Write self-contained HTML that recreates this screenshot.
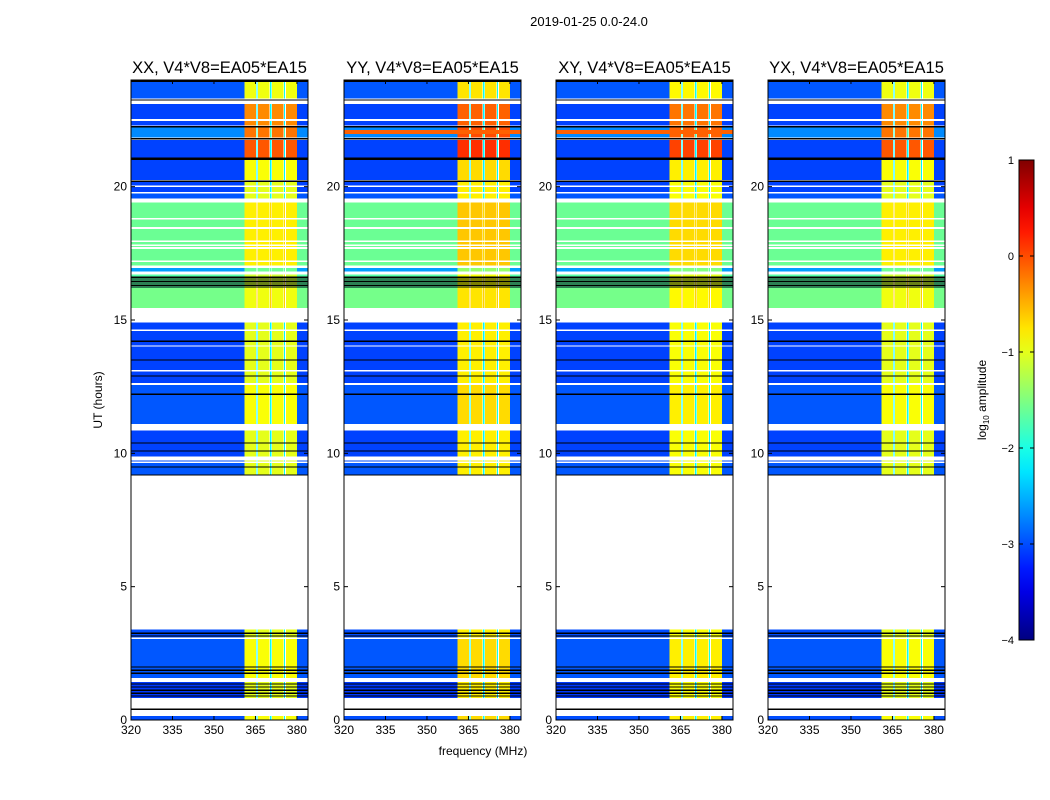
<!DOCTYPE html>
<html><head><meta charset="utf-8">
<style>
html,body{margin:0;padding:0;background:#fff;}
svg{display:block;font-family:"Liberation Sans",sans-serif;}
</style></head>
<body>
<svg id="fig" width="1050" height="800" xmlns="http://www.w3.org/2000/svg">
<text x="589" y="26" font-size="13" text-anchor="middle">2019-01-25 0.0-24.0</text>
<text x="483" y="755" font-size="12" text-anchor="middle">frequency (MHz)</text>
<text x="102" y="400" font-size="12" text-anchor="middle" transform="rotate(-90 102 400)">UT (hours)</text>
<text x="986" y="400" font-size="12" text-anchor="middle" transform="rotate(-90 986 400)">log<tspan font-size="8" dy="3">10</tspan><tspan dy="-3"> amplitude</tspan></text>
<g id="panels"></g>
<g id="cbar"></g>
</svg>
<script>
// ---- data ----
const panelTitles = ["XX, V4*V8=EA05*EA15","YY, V4*V8=EA05*EA15","XY, V4*V8=EA05*EA15","YX, V4*V8=EA05*EA15"];
const panelBandDelta = [0, 0.2, 0.1, 0.0];
const segStart = [0.00,0.82,1.57,3.10,9.20,9.70,9.88,11.10,12.62,13.12,14.05,14.65,15.45,16.20,16.82,17.05,19.55,19.80,20.25,21.10,21.85,22.30,23.30];
const segEnd   = [0.15,1.42,3.03,3.40,9.65,9.74,10.85,12.58,13.07,14.00,14.60,14.90,16.20,16.70,16.95,19.40,19.75,20.20,21.00,21.75,22.22,23.10,23.95];
const offLevel = [-3.0,-3.1,-2.95,-3.0,-2.95,-3.0,-3.05,-2.95,-3.05,-3.05,-3.05,-3.05,-1.55,-1.7,-2.6,-1.6,-2.95,-3.05,-3.05,-3.05,-2.7,-3.05,-2.95];
const bandLevel= [-0.9,-1.0,-0.9,-1.0,-1.0,-1.0,-1.0,-0.9,-1.0,-1.0,-1.0,-1.0,-0.95,-1.1,-1.6,-0.8,-1.0,-1.0,-0.9,-0.05,-0.2,-0.3,-0.95];
const blackLines = [0.41,0.90,1.01,1.12,1.24,1.35,1.76,1.87,1.99,3.15,3.26,9.19,9.49,10.09,10.39,12.22,12.90,13.50,14.21,16.24,16.31,16.39,16.46,16.54,16.61,20.21,21.03,21.07,21.80,22.25,23.25,23.96];
const whiteLines = [9.67,12.60,13.09,14.62,17.21,17.70,17.81,17.96,18.45,18.79,20.02,22.50];
// frequency channel mask, 1 MHz bins from 320..384 : 0 = off band, 1 = band, 2 = narrow dip
const bandMask = [0,0,0,0,0,0,0,0,0,0, 0,0,0,0,0,0,0,0,0,0, 0,0,0,0,0,0,0,0,0,0, 0,0,0,0,0,0,0,0,0,0,
                  0,1,1,1,1,2,1,1,1,1, 2,1,1,1,1,2,1,1,1,1, 0,0,0,0];
const redLinePanels = [1,2];
const redLineHours = [21.98,22.12];
const xTicks = [320,335,350,365,380];
const yTicks = [0,5,10,15,20];
const cbTicks = [1,0,-1,-2,-3,-4];
(function(){
const NS="http://www.w3.org/2000/svg";
const panelLeft=[131,344,556,768], pw=177, axTop=80, axBot=720;
const fMin=320,fMax=384,tMin=0,tMax=24,vMin=-4,vMax=1;
function clip(v){return Math.max(0,Math.min(1,v));}
function jet(v){const t=clip((v-vMin)/(vMax-vMin));
 const r=clip(1.5-Math.abs(4*t-3)),g=clip(1.5-Math.abs(4*t-2)),b=clip(1.5-Math.abs(4*t-1));
 return `rgb(${Math.round(r*255)},${Math.round(g*255)},${Math.round(b*255)})`;}
function el(tag,attrs,parent){const e=document.createElementNS(NS,tag);for(const k in attrs)e.setAttribute(k,attrs[k]);parent.appendChild(e);return e;}
const panelsG=document.getElementById('panels');
panelLeft.forEach((L,p)=>{
 const xs=f=>L+(f-fMin)/(fMax-fMin)*pw;
 const ys=h=>axBot-(h-tMin)/(tMax-tMin)*(axBot-axTop);
 const g=el('g',{},panelsG);
 
 
 const hm=el('g',{'shape-rendering':'crispEdges'},g);
 
 
 for(let s=0;s<segStart.length;s++){
  const y1=ys(segEnd[s]),y0=ys(segStart[s]);
  let j=0;
  while(j<bandMask.length){
   const m=bandMask[j];let k=j;while(k<bandMask.length&&bandMask[k]===m)k++;
   let v=m===0?offLevel[s]:(m===1?bandLevel[s]+panelBandDelta[p]:offLevel[s]+0.9);
   const x0=m===2?xs(fMin+j)+0.8:xs(fMin+j);
   const w=m===2?1.2:xs(fMin+k)-xs(fMin+j)+0.3;
   const r=el('rect',{x:x0,y:y1,width:w,height:y0-y1,fill:jet(v)},hm);
   
   
   j=k;
  }
 }
 if(redLinePanels.includes(p)){
  const r=el('rect',{x:L,y:ys(redLineHours[1]),width:pw,height:ys(redLineHours[0])-ys(redLineHours[1]),fill:jet(-0.1)},hm);
  
  
 }
 whiteLines.forEach(h=>{const r=el('rect',{x:L,y:ys(h)-0.8,width:pw,height:1.6,fill:'#fff'},hm);
  
  });
 blackLines.forEach(h=>{const r=el('rect',{x:L,y:ys(h)-0.6,width:pw,height:1.3,fill:'#000'},hm);
  
  });
 const fr=el('rect',{x:L,y:axTop,width:pw,height:axBot-axTop,fill:'none',stroke:'#000','stroke-width':1},g);
 
 
 const t=el('text',{x:L+pw/2,y:axTop-7,'font-size':16.5,'text-anchor':'middle'},g);t.textContent=panelTitles[p];
 
 
 xTicks.forEach(f=>{const x=xs(f);
  el('line',{x1:x,x2:x,y1:axBot,y2:axBot-4,stroke:'#000'},g);el('line',{x1:x,x2:x,y1:axTop,y2:axTop+4,stroke:'#000'},g);
  const tx=el('text',{x:x,y:axBot+14,'font-size':12,'text-anchor':'middle'},g);tx.textContent=f;
  
  });
 yTicks.forEach(h=>{const y=ys(h);
  el('line',{x1:L,x2:L+4,y1:y,y2:y,stroke:'#000'},g);el('line',{x1:L+pw,x2:L+pw-4,y1:y,y2:y,stroke:'#000'},g);
  const ty=el('text',{x:L-4,y:y+4,'font-size':12,'text-anchor':'end'},g);ty.textContent=h;
  
  });
});
const cb=document.getElementById('cbar');


const defs=el('defs',{},cb);const lg=el('linearGradient',{id:'jetg',x1:0,y1:1,x2:0,y2:0},defs);
for(let i=0;i<=20;i++){el('stop',{offset:i/20,'stop-color':jet(vMin+(vMax-vMin)*i/20)},lg);}
const cx=1019,cw=15,ct=160,cbt=640;
el('rect',{x:cx,y:ct,width:cw,height:cbt-ct,fill:'url(#jetg)',stroke:'#000','stroke-width':1},cb);
cbTicks.forEach(v=>{const y=cbt-(v-vMin)/(vMax-vMin)*(cbt-ct);
 el('line',{x1:cx,x2:cx+4,y1:y,y2:y,stroke:'#000'},cb);el('line',{x1:cx+cw,x2:cx+cw-4,y1:y,y2:y,stroke:'#000'},cb);
 const t=el('text',{x:cx-5,y:y+4,'font-size':11,'text-anchor':'end'},cb);t.textContent=(v<0?'\u2212'+(-v):v);
 
 });
})();
</script>
</body></html>
